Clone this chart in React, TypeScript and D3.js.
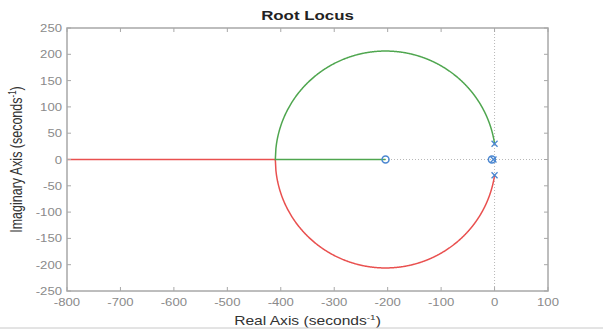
import React from "react";
import * as d3 from "d3";

// ---- data ----
const title = "Root Locus";
const xTicks = [-800, -700, -600, -500, -400, -300, -200, -100, 0, 100];
const yTicks = [-250, -200, -150, -100, -50, 0, 50, 100, 150, 200, 250];
const xDomain = [-800, 100];
const yDomain = [-250, 250];
// open-loop poles / zeros (re, im)
const polesRe = [0, 0, -2];
const polesIm = [30, -30, 0];
const zerosRe = [-204, -5];
const zerosIm = [0, 0];
// dominant loop: s^2 + wn2 + K (s + z) = 0
const wn2 = 900;
const zDom = 204;

const W = 603, H = 331;
const M = { left: 67, right: 548, top: 28, bottom: 291 };
const SX = 1.25;

function computeLocus() {
  // breakaway gain
  const Kb = (4 * zDom + Math.sqrt(16 * zDom * zDom + 16 * wn2)) / 2;
  const gains: number[] = [];
  const n = 600;
  for (let i = 0; i <= n; i++) gains.push(Kb * (1 - Math.cos((Math.PI / 2) * (i / n))) );
  const upper: [number, number][] = [];
  const lower: [number, number][] = [];
  for (const K of gains) {
    const d = wn2 + zDom * K - (K * K) / 4;
    const im = Math.sqrt(Math.max(0, d));
    upper.push([-K / 2, im]);
    lower.push([-K / 2, -im]);
  }
  const green: [number, number][] = [...upper];
  const red: [number, number][] = [...lower];
  const m = 400;
  for (let i = 1; i <= m; i++) {
    const K = Kb * Math.pow(1e4, i / m);
    const D = K * K - 4 * (wn2 + zDom * K);
    const sq = Math.sqrt(Math.max(0, D));
    green.push([(-K + sq) / 2, 0]);
    red.push([(-K - sq) / 2, 0]);
  }
  return { green, red };
}

export default function App() {
  const x = d3.scaleLinear().domain(xDomain).range([M.left, M.right]);
  const y = d3.scaleLinear().domain(yDomain).range([M.bottom, M.top]);
  const line = d3.line<[number, number]>().x((d) => x(d[0])).y((d) => y(d[1]));
  const { green, red } = computeLocus();
  const axisColor = "#a8a8a8";
  const tickText = "#8a8a8a";
  const blue = "#4a86d0";
  const font = "Liberation Sans, Arial, sans-serif";
  const tl = 4;

  return (
    <svg width={W} height={H} style={{ position: "absolute", left: 0, top: 0, background: "#fff" }} fontFamily={font}>
      <defs>
        <clipPath id="plot">
          <rect x={M.left} y={M.top} width={M.right - M.left} height={M.bottom - M.top} />
        </clipPath>
      </defs>
      <rect x={0} y={0} width={W} height={H} fill="#fff" />
      {/* zero lines */}
      <line x1={x(0)} x2={x(0)} y1={M.top} y2={M.bottom} stroke="#b8b8b8" strokeDasharray="1,2" strokeWidth={1} />
      <line x1={M.left} x2={M.right} y1={y(0)} y2={y(0)} stroke="#b8b8b8" strokeDasharray="1,2" strokeWidth={1} />
      <g clipPath="url(#plot)">
        <path d={line(red) || ""} fill="none" stroke="#e9504f" strokeWidth={1.5} />
        <path d={line(green) || ""} fill="none" stroke="#4fa64f" strokeWidth={1.5} />
      </g>
      {/* markers */}
      {zerosRe.map((re, i) => (
        <circle key={"z" + i} cx={x(re)} cy={y(zerosIm[i])} r={3.5} fill="none" stroke={blue} strokeWidth={1.5} />
      ))}
      {polesRe.map((re, i) => (
        <g key={"p" + i} stroke={blue} strokeWidth={1.3}>
          <line x1={x(re) - 3} x2={x(re) + 3} y1={y(polesIm[i]) - 3} y2={y(polesIm[i]) + 3} />
          <line x1={x(re) - 3} x2={x(re) + 3} y1={y(polesIm[i]) + 3} y2={y(polesIm[i]) - 3} />
        </g>
      ))}
      {/* box */}
      <rect x={M.left} y={M.top} width={M.right - M.left} height={M.bottom - M.top} fill="none" stroke={axisColor} strokeWidth={1.5} />
      {xTicks.map((t) => (
        <g key={"xt" + t}>
          <line x1={x(t)} x2={x(t)} y1={M.bottom} y2={M.bottom - tl} stroke={axisColor} />
          <line x1={x(t)} x2={x(t)} y1={M.top} y2={M.top + tl} stroke={axisColor} />
          <text transform={`translate(${x(t)},${M.bottom + 15}) scale(${SX},1)`} textAnchor="middle" fontSize={10.5} fill={tickText}>
            {t}
          </text>
        </g>
      ))}
      {yTicks.map((t) => (
        <g key={"yt" + t}>
          <line x1={M.left} x2={M.left + tl} y1={y(t)} y2={y(t)} stroke={axisColor} />
          <line x1={M.right} x2={M.right - tl} y1={y(t)} y2={y(t)} stroke={axisColor} />
          <text transform={`translate(${M.left - 5},${y(t) + 4}) scale(${SX},1)`} textAnchor="end" fontSize={10.5} fill={tickText}>
            {t}
          </text>
        </g>
      ))}
      <text transform={`translate(${(M.left + M.right) / 2},20) scale(${SX},1)`} textAnchor="middle" fontSize={13.5} fontWeight="bold" fill="#222">
        {title}
      </text>
      <text transform={`translate(${(M.left + M.right) / 2},325) scale(${SX},1)`} textAnchor="middle" fontSize={12.5} fill="#333">
        Real Axis (seconds<tspan dy={-5} fontSize={8}>-1</tspan><tspan dy={5}>)</tspan>
      </text>
      <text transform={`translate(22,${(M.top + M.bottom) / 2}) rotate(-90) scale(1,${SX})`} textAnchor="middle" fontSize={12.5} fill="#333">
        Imaginary Axis (seconds<tspan dy={-5} fontSize={8}>-1</tspan><tspan dy={5}>)</tspan>
      </text>
      <line x1={0} x2={W} y1={328} y2={328} stroke="#c8c8c8" strokeWidth={1} />
    </svg>
  );
}
